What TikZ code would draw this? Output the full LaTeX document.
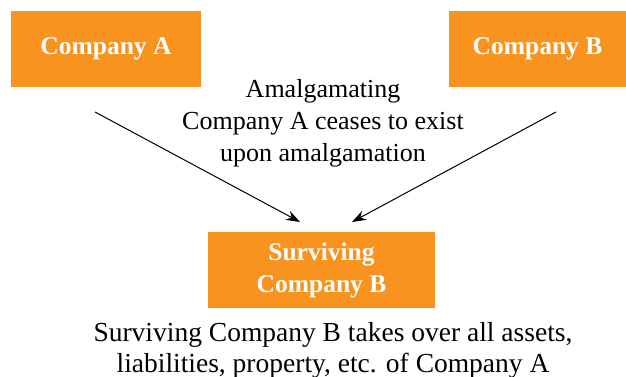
\documentclass[tikz,border=0pt]{standalone}
\usepackage{fontspec}
\setmainfont{Liberation Serif}
\usetikzlibrary{arrows.meta}
\definecolor{boxorange}{HTML}{F7931E}
\tikzset{
    cobox/.style={fill=boxorange, text=white, font=\fontsize{25.5}{32}\selectfont\bfseries,
        minimum height=76pt, inner sep=0pt, align=center},
    note/.style={font=\fontsize{26}{32}\selectfont, align=center, inner sep=0pt},
    link/.style={-{Stealth[length=14pt,width=10pt]}, line width=1pt}
}
\begin{document}
\begin{tikzpicture}[x=1pt,y=-1pt]
    \useasboundingbox (0,0) rectangle (626,377);
    % 公司
    \node[cobox, minimum width=190pt] (compA) at (106,49) {Company A};
    \node[cobox, minimum width=177pt] (compB) at (537.5,49) {Company B};
    \node[cobox, minimum width=227pt] (surv) at (321.5,270) {Surviving\\Company B};
    
    % 说明
    \node[note] (amal) at (323,123) {Amalgamating\\Company A ceases to exist\\upon amalgamation};
    \node[note, font=\fontsize{27.5}{31}\selectfont] (takeover) at (333,350) {Surviving Company B takes over all assets,\\liabilities, property, etc. of Company A};
    
    % 箭头
    \coordinate (fromA) at (95,112);
    \coordinate (fromB) at (556,112);
    \coordinate (toA) at (300,222);
    \coordinate (toB) at (352,222);
    \draw[link] (fromA) -- (toA);
    \draw[link] (fromB) -- (toB);
\end{tikzpicture}
\end{document}
